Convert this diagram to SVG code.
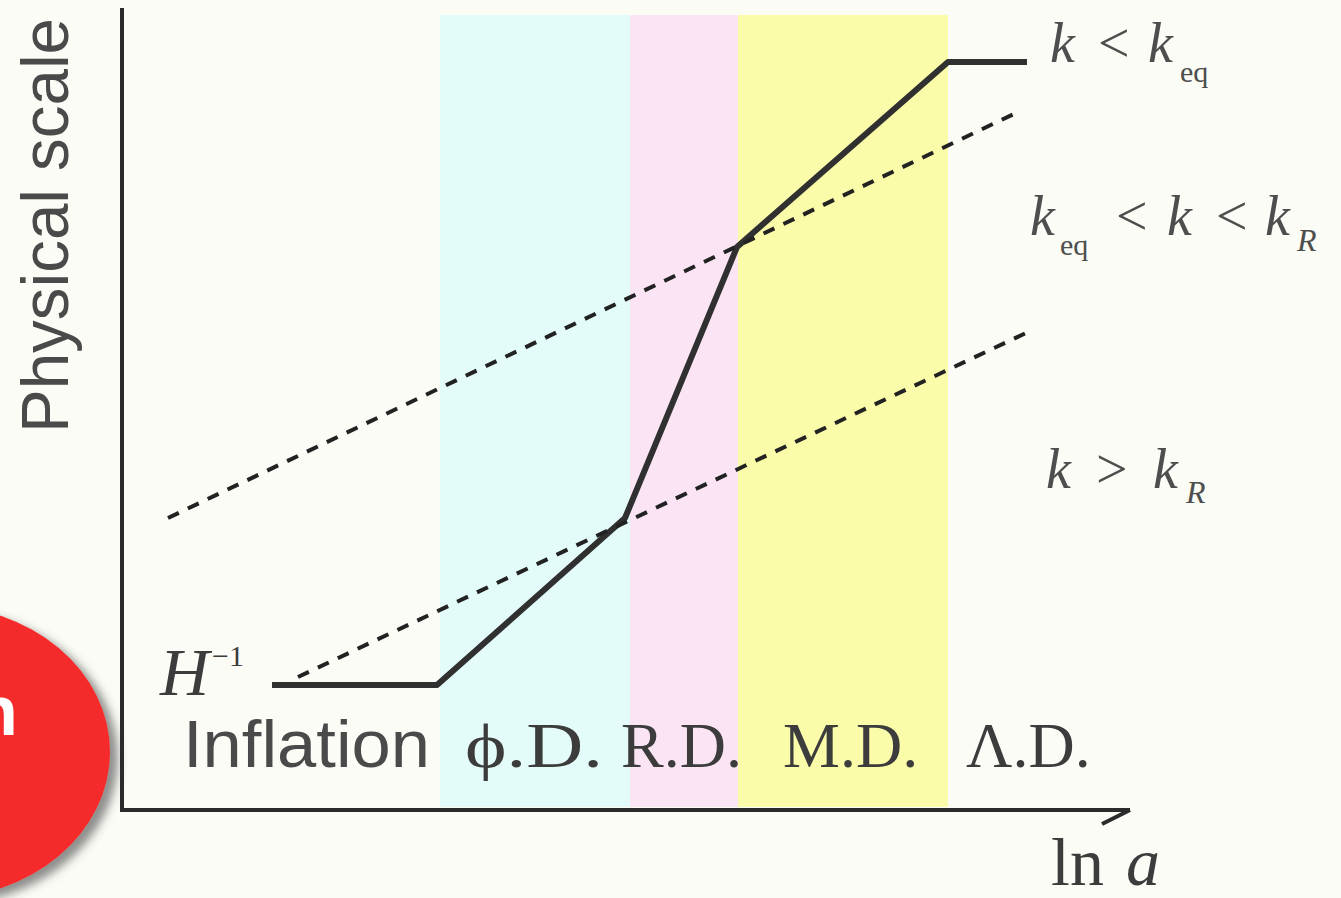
<svg xmlns="http://www.w3.org/2000/svg" width="1341" height="898" viewBox="0 0 1341 898">
<defs>
<style>
.sans{font-family:"Liberation Sans","Arial",sans-serif;fill:#4a4a4a}
.serif{font-family:"Liberation Serif","Times New Roman",serif;fill:#3c3c3c}
.lbl{fill:#4e4e4e}
.it{font-style:italic}
.axis{stroke:#2b2b2b;stroke-width:4;fill:none}
.solid{stroke:#303030;stroke-width:6;fill:none;stroke-linejoin:round}
.dash{stroke:#222;stroke-width:4;fill:none;stroke-dasharray:12 10}
</style>
<filter id="shadow" x="-50%" y="-50%" width="200%" height="200%">
<feDropShadow dx="8" dy="6" stdDeviation="5" flood-color="#444" flood-opacity="0.6"/>
</filter>
</defs>
<rect width="1341" height="898" fill="#fafcf5"/>
<g id="bands">
<rect x="440" y="15" width="190" height="792" fill="#e3fcfa"/>
<rect x="630" y="15" width="108" height="792" fill="#fbe5f5"/>
<rect x="738" y="15" width="210" height="792" fill="#fbfca9"/>
</g>
<g id="badge">
<ellipse cx="-65" cy="752" rx="175" ry="147" fill="#f52b2b" filter="url(#shadow)"/>
<text x="-25" y="735" font-family="Liberation Sans, Arial, sans-serif" font-weight="bold" font-size="70" fill="#ffffff">n</text>
</g>
<g id="axes">
<line class="axis" x1="122" y1="8" x2="122" y2="812"/>
<line class="axis" x1="120" y1="810" x2="1130" y2="810"/>
<line class="axis" x1="1130" y1="810" x2="1102" y2="824"/>
</g>
<g id="connectors">
<polyline class="solid" points="272,685 437,685 625,518 737,247 948,62 1027,62"/>
<line class="dash" x1="168" y1="518" x2="1018" y2="112"/>
<line class="dash" x1="298" y1="677" x2="1028" y2="332"/>
</g>
<g id="ylabel">
<text class="sans" transform="translate(68,433) rotate(-90)" font-size="66" textLength="415" lengthAdjust="spacingAndGlyphs">Physical scale</text>
</g>
<g id="xlabel">
<text class="serif" x="1051" y="885" font-size="68">ln<tspan class="it" x="1126">a</tspan></text>
</g>
<g id="hinv">
<text class="serif it" x="160" y="695" font-size="68">H</text>
<text class="serif" x="212" y="666" font-size="30">−1</text>
</g>
<g id="eras">
<text class="sans" x="183" y="767" font-size="66" textLength="247" lengthAdjust="spacingAndGlyphs">Inflation</text>
<text class="serif" x="465" y="767" font-size="64" textLength="138" lengthAdjust="spacingAndGlyphs">ϕ.D.</text>
<text class="serif" x="621" y="767" font-size="64">R.D.</text>
<text class="serif" x="783" y="767" font-size="64">M.D.</text>
<text class="serif" x="966" y="767" font-size="64">Λ.D.</text>
</g>
<g id="label-k-lt-keq">
<text class="serif lbl" font-size="56" y="62"><tspan class="it" x="1050">k</tspan><tspan x="1098">&lt;</tspan><tspan class="it" x="1148">k</tspan></text>
<text class="serif lbl" font-size="30" x="1180" y="82">eq</text>
</g>
<g id="label-keq-k-kR">
<text class="serif lbl" font-size="56" y="235"><tspan class="it" x="1030">k</tspan><tspan x="1116">&lt;</tspan><tspan class="it" x="1167">k</tspan><tspan x="1216">&lt;</tspan><tspan class="it" x="1265">k</tspan></text>
<text class="serif lbl" font-size="30" x="1060" y="255">eq</text>
<text class="serif it lbl" font-size="32" x="1297" y="251">R</text>
</g>
<g id="label-k-gt-kR">
<text class="serif lbl" font-size="56" y="488"><tspan class="it" x="1046">k</tspan><tspan x="1096">&gt;</tspan><tspan class="it" x="1153">k</tspan></text>
<text class="serif it lbl" font-size="32" x="1186" y="503">R</text>
</g>
</svg>
